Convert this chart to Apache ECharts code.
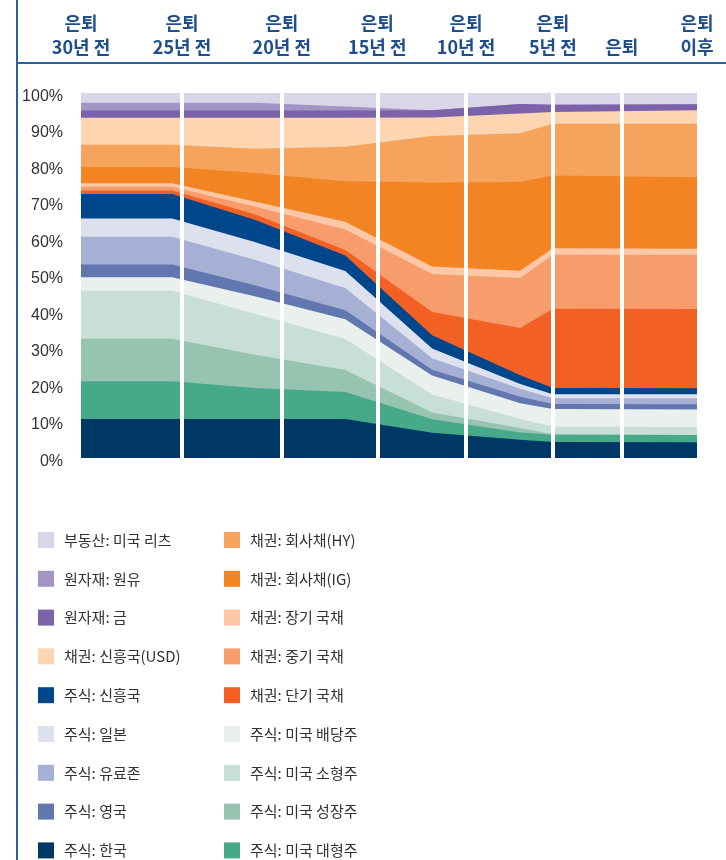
<!DOCTYPE html>
<html>
<head>
<meta charset="utf-8">
<script src="https://cdn.jsdelivr.net/npm/echarts@6/dist/echarts.min.js"></script>
<style>
html, body { margin: 0; padding: 0; background: #fff; }
#chart { width: 726px; height: 860px; }
</style>
</head>
<body>
<div id="chart"></div>
<script>
// 시점 위치 (차트 폭 기준 0~100)
const xPos = [0, 14.8, 28.2, 42.9, 57.0, 71.3, 76.6, 100];

// 상단 시점 라벨
const topLabelPos = [0, 16.4, 32.6, 48.1, 62.5, 76.6, 87.8, 100];
const topLabels = ['은퇴\n30년 전', '은퇴\n25년 전', '은퇴\n20년 전', '은퇴\n15년 전',
  '은퇴\n10년 전', '은퇴\n5년 전', '은퇴', '은퇴\n이후'];
const dividerPos = [16.4, 32.6, 48.1, 62.5, 76.6, 87.8];

// 자산 비중 (%) - 아래에서 위로 쌓는 순서
const korea      = [10.7, 10.7, 10.7, 10.7, 6.9, 5.0, 4.4, 4.3];
const usLarge    = [10.3, 10.3, 8.5, 7.4, 3.7, 2.0, 2.0, 2.0];
const usGrowth   = [11.7, 11.7, 9.1, 6.0, 1.9, 1.2, 0.1, 0];
const usSmall    = [13.1, 13.1, 11.2, 8.5, 4.9, 2.5, 2.1, 2.2];
const usDividend = [3.7, 3.7, 4.8, 5.4, 5.2, 4.3, 4.8, 4.8];
const uk         = [3.5, 3.5, 3.0, 2.5, 1.6, 1.8, 1.4, 1.4];
const eurozone   = [7.6, 7.6, 7.0, 6.1, 3.1, 2.2, 1.6, 1.7];
const japan      = [5.0, 5.0, 4.9, 4.6, 2.7, 1.3, 1.1, 1.1];
const emEquity   = [6.7, 6.7, 6.1, 4.3, 3.6, 2.4, 1.7, 1.6];
const shortTsy   = [1.0, 1.0, 1.5, 1.5, 6.4, 12.9, 21.7, 21.7];
const midTsy     = [1.0, 1.0, 2.1, 5.6, 10.4, 13.7, 14.8, 14.9];
const longTsy    = [1.0, 1.0, 1.4, 2.1, 2.1, 2.0, 1.8, 1.6];
const corpIG     = [4.4, 4.4, 7.8, 11.1, 23.0, 24.3, 19.9, 19.6];
const corpHY     = [6.1, 6.1, 6.6, 9.5, 12.7, 13.4, 14.2, 14.7];
const emUSD      = [7.4, 7.4, 8.5, 7.9, 5.1, 5.4, 3.2, 3.7];
const gold       = [2.0, 2.0, 2.0, 2.0, 2.0, 2.6, 2.0, 1.6];
const oil        = [2.1, 2.1, 2.1, 1.1, 0, 0, 0, 0];
const reits      = [2.7, 2.7, 2.7, 3.7, 4.7, 3.0, 3.2, 3.1];

const assets = [
  { name: '주식: 한국', data: korea, color: '#003865' },
  { name: '주식: 미국 대형주', data: usLarge, color: '#45a98a' },
  { name: '주식: 미국 성장주', data: usGrowth, color: '#96c4b0' },
  { name: '주식: 미국 소형주', data: usSmall, color: '#c7dfd5' },
  { name: '주식: 미국 배당주', data: usDividend, color: '#eaf1ed' },
  { name: '주식: 영국', data: uk, color: '#6277b0' },
  { name: '주식: 유료존', data: eurozone, color: '#a6b0d4' },
  { name: '주식: 일본', data: japan, color: '#dde1ee' },
  { name: '주식: 신흥국', data: emEquity, color: '#00468b' },
  { name: '채권: 단기 국채', data: shortTsy, color: '#f26024' },
  { name: '채권: 중기 국채', data: midTsy, color: '#f79d6c' },
  { name: '채권: 장기 국채', data: longTsy, color: '#fcc8a6' },
  { name: '채권: 회사채(IG)', data: corpIG, color: '#f38423' },
  { name: '채권: 회사채(HY)', data: corpHY, color: '#f6a45d' },
  { name: '채권: 신흥국(USD)', data: emUSD, color: '#fdd5b0' },
  { name: '원자재: 금', data: gold, color: '#7b62aa' },
  { name: '원자재: 원유', data: oil, color: '#a396c7' },
  { name: '부동산: 미국 리츠', data: reits, color: '#d9d6ea' }
];

const leftLegend = ['부동산: 미국 리츠', '원자재: 원유', '원자재: 금', '채권: 신흥국(USD)',
  '주식: 신흥국', '주식: 일본', '주식: 유료존', '주식: 영국', '주식: 한국'];
const rightLegend = ['채권: 회사채(HY)', '채권: 회사채(IG)', '채권: 장기 국채', '채권: 중기 국채',
  '채권: 단기 국채', '주식: 미국 배당주', '주식: 미국 소형주', '주식: 미국 성장주', '주식: 미국 대형주'];

const chart = echarts.init(document.getElementById('chart'));

// 누적 합계 (각 자산 띠의 윗선)
const cumTop = [];
assets.forEach((a, i) => {
  cumTop.push(a.data.map((v, j) => +(v + (i > 0 ? cumTop[i - 1][j] : 0)).toFixed(2)));
});

// 위쪽 자산부터 그리고, 아래 자산이 그 위를 덮음
const series = assets.map((a, i) => ({
  name: a.name,
  type: 'line',
  data: cumTop[i].map((v, j) => [xPos[j], v]),
  z: 2 + (assets.length - i) * 0.01,
  showSymbol: false,
  symbol: 'none',
  lineStyle: { width: 0 },
  areaStyle: { color: a.color, opacity: 1 },
  itemStyle: { color: a.color },
  silent: true
})).reverse();

// 시점 구분 흰 선
series.push({
  type: 'line',
  data: [],
  silent: true,
  z: 5,
  markLine: {
    silent: true,
    symbol: 'none',
    label: { show: false },
    lineStyle: { color: '#fff', width: 4, type: 'solid' },
    data: dividerPos.map(v => ({ xAxis: v }))
  }
});

const legendBase = {
  type: 'plain',
  orient: 'vertical',
  top: 527,
  height: 360,
  itemWidth: 16,
  itemHeight: 16,
  itemGap: 22.8,
  icon: 'rect',
  selectedMode: false,
  textStyle: {
    fontFamily: 'Noto Sans CJK KR',
    fontSize: 15,
    color: '#333',
    lineHeight: 16,
    padding: [0, 0, 0, 5]
  }
};

chart.setOption({
  animation: false,
  backgroundColor: '#fff',
  grid: { left: 81, right: 29, top: 93, bottom: 402 },
  graphic: [
    { type: 'line', shape: { x1: 17, y1: 0, x2: 17, y2: 860 }, style: { stroke: '#2f5ea8', lineWidth: 2 } },
    { type: 'line', shape: { x1: 17, y1: 63, x2: 726, y2: 63 }, style: { stroke: '#2f5ea8', lineWidth: 2 } }
  ],
  legend: [
    Object.assign({}, legendBase, { left: 33, data: leftLegend }),
    Object.assign({}, legendBase, { left: 219, data: rightLegend })
  ],
  xAxis: [
    {
      type: 'value', min: 0, max: 100,
      axisLine: { show: false }, axisTick: { show: false },
      axisLabel: { show: false }, splitLine: { show: false }
    },
    {
      type: 'value', min: 0, max: 100, position: 'top',
      axisLine: { show: false }, axisTick: { show: false }, splitLine: { show: false },
      axisLabel: {
        customValues: topLabelPos,
        hideOverlap: false,
        margin: 34,
        fontFamily: 'Noto Sans CJK KR',
        fontSize: 18,
        fontWeight: 'bold',
        lineHeight: 24,
        color: '#1f4e8f',
        align: 'center',
        formatter: v => {
          const i = topLabelPos.findIndex(p => Math.abs(p - v) < 0.01);
          return i >= 0 ? topLabels[i] : '';
        }
      }
    }
  ],
  yAxis: {
    type: 'value', min: 0, max: 100, interval: 10,
    axisLine: { show: false }, axisTick: { show: false }, splitLine: { show: false },
    axisLabel: {
      formatter: v => '{t|' + v + '%}',
      margin: 18,
      rich: {
        t: {
          fontFamily: 'Liberation Sans',
          fontSize: 16,
          color: '#333',
          lineHeight: 16,
          padding: [7, 0, 0, 0]
        }
      }
    }
  },
  series: series
});
</script>
</body>
</html>
